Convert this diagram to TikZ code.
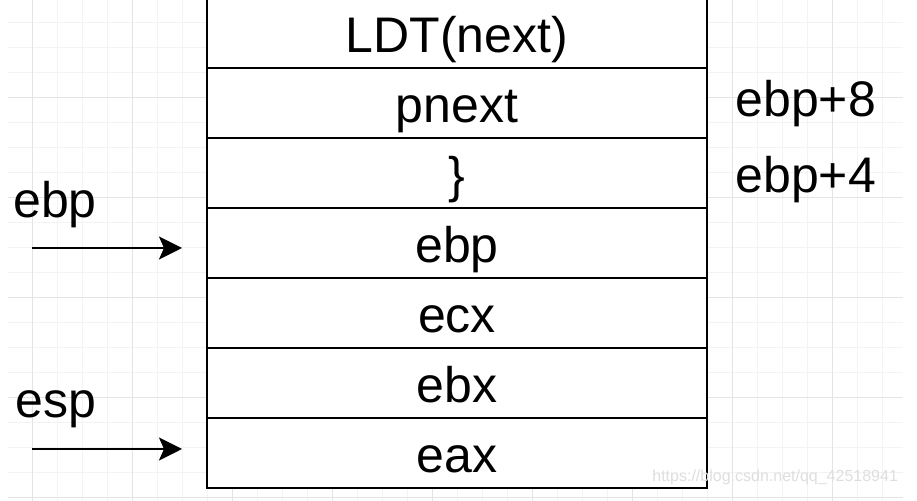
\documentclass[tikz,border=0pt]{standalone}
\usepackage{fontspec}
\setmainfont{Liberation Sans}
\usetikzlibrary{positioning,arrows.meta}
\definecolor{ink}{HTML}{000000}
\definecolor{gridmajor}{HTML}{E4E4E4}
\definecolor{gridminor}{HTML}{F3F3F3}
\definecolor{mark}{HTML}{DEDEDE}

\begin{document}
\begin{tikzpicture}[x=0.5pt,y=-0.5pt,font=\fontsize{25}{30}\selectfont,
    cell/.style={draw=ink,fill=white,line width=1pt,minimum width=250pt,minimum height=35pt,
      inner sep=0pt,text height=20pt,text depth=0pt},
    tag/.style={anchor=base west,inner sep=0pt},
    ptr/.style={draw=ink,line width=1pt,-{Stealth[length=11.5pt,width=11.5pt,inset=2.5pt]}}]
      \useasboundingbox (0,0) rectangle (917,501);
      % background grid, minor every 25px, major every 100px
      \foreach \gx in {32,57,...,882}{
        \draw[gridminor,line width=0.5pt] (\gx,0) -- (\gx,501);}
      \foreach \gy in {23,48,...,498}{
        \draw[gridminor,line width=0.5pt] (8,\gy) -- (903,\gy);}
      \foreach \gx in {32,132,...,832}{
        \draw[gridmajor,line width=0.5pt] (\gx,0) -- (\gx,501);}
      \foreach \gy in {98,198,...,498}{
        \draw[gridmajor,line width=0.5pt] (8,\gy) -- (903,\gy);}
      % stack cells, top one runs off the page
      \foreach \i/\lab in {0/LDT(next),1/pnext,2/\},3/ebp,4/ecx,5/ebx,6/eax}{
        \node[cell] (c\i) at (457,{33+70*\i}) {\lab};}
      \node[tag] (offeight) at (735,117) {ebp+8};
      \node[tag] (offfour) at (735,193) {ebp+4};
      \node[tag] (regebp) at (13,218) {ebp};
      \node[tag] (regesp) at (15,418) {esp};
      \coordinate (ebpfrom) at (32,248);
      \coordinate (ebpto) at (182,248);
      \coordinate (espfrom) at (32,449);
      \coordinate (espto) at (182,449);
      \draw[ptr] (ebpfrom) -- (ebpto);
      \draw[ptr] (espfrom) -- (espto);
      \node[tag,text=mark,font=\fontsize{8}{10}\selectfont] (wmark) at (652,482)
        {https://blog.csdn.net/qq\_42518941};
    \end{tikzpicture}
\end{document}
